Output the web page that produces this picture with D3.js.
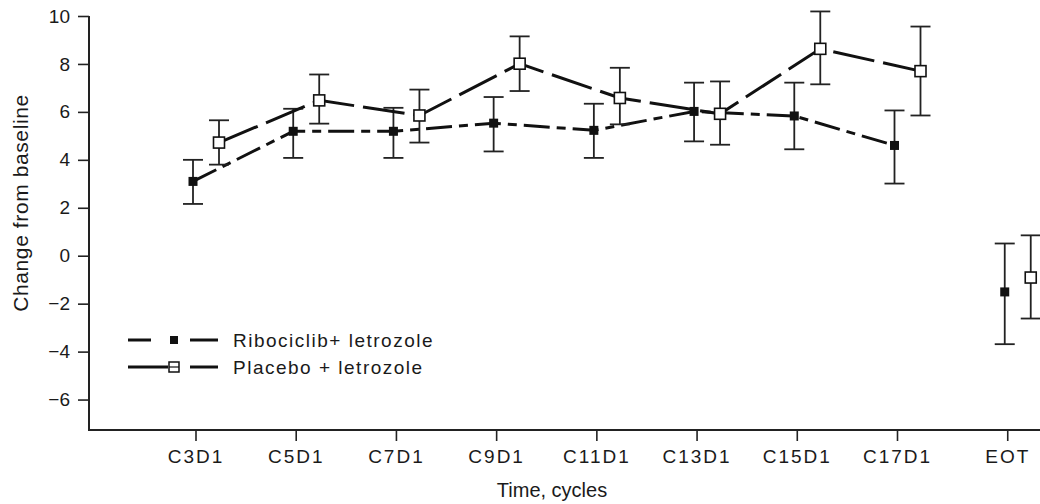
<!DOCTYPE html>
<html>
<head>
<meta charset="utf-8">
<script src="https://cdn.jsdelivr.net/npm/d3@7"></script>
<style>
	body { margin: 0; background: #fff; }
	text { font-family: 'Liberation Sans', Arial, sans-serif; fill: #1a1a1a; }
</style>
</head>
<body>
<div id="chart"></div>
<script>
// visits on the x axis
const visits = ['C3D1', 'C5D1', 'C7D1', 'C9D1', 'C11D1', 'C13D1', 'C15D1', 'C17D1', 'EOT']

// mean change from baseline and error bar limits
const riboMean = [3.10, 5.19, 5.19, 5.53, 5.23, 6.02, 5.83, 4.60, -1.51]
const riboLow = [2.16, 4.08, 4.08, 4.35, 4.08, 4.77, 4.44, 3.01, -3.69]
const riboHigh = [4.00, 6.13, 6.17, 6.62, 6.34, 7.22, 7.22, 6.06, 0.51]

const placeboMean = [4.72, 6.48, 5.85, 8.01, 6.58, 5.92, 8.63, 7.70, -0.91]
const placeboLow = [3.80, 5.51, 4.72, 6.87, 5.48, 4.63, 7.15, 5.85, -2.62]
const placeboHigh = [5.65, 7.56, 6.93, 9.15, 7.84, 7.27, 10.19, 9.56, 0.85]

const yTicks = [-6, -4, -2, 0, 2, 4, 6, 8, 10]

const width = 1040,
	height = 504,
	margin = {top: 16, right: 0, bottom: 74, left: 89}

const svg = d3.select('#chart').append('svg').attr('width', width).attr('height', height)

// EOT sits a little further out than the regular cycle spacing
const slot = i => (visits[i] === 'EOT' ? i + 0.1 : i)
const x = d3.scaleLinear().domain([0, 7]).range([196, 897.5])
const y = d3.scaleLinear().domain([-7.27, 10]).range([height - margin.bottom, margin.top])

const axisColour = '#222'

// axes
const yAxis = svg
	.append('g')
	.attr('transform', `translate(${margin.left},0)`)
	.call(d3.axisLeft(y).tickValues(yTicks).tickSize(11).tickPadding(8).tickSizeOuter(0))
yAxis.select('.domain').attr('stroke', axisColour).attr('stroke-width', 2)
	.attr('d', `M0,${y(10)}V${height - margin.bottom}`)
yAxis.selectAll('.tick line').attr('stroke', axisColour).attr('stroke-width', 1.6)
yAxis.selectAll('.tick text').style('font-size', '19px').attr('fill', '#1a1a1a')

const xAxisG = svg.append('g').attr('transform', `translate(0,${height - margin.bottom})`)
xAxisG
	.append('line')
	.attr('x1', margin.left - 1)
	.attr('x2', width)
	.attr('stroke', axisColour)
	.attr('stroke-width', 2)
const xTick = xAxisG
	.selectAll('g.xtick')
	.data(visits)
	.enter()
	.append('g')
	.attr('class', 'xtick')
	.attr('transform', (d, i) => `translate(${x(slot(i))},0)`)
xTick.append('line').attr('y2', 11).attr('stroke', axisColour).attr('stroke-width', 1.6)
xTick
	.append('text')
	.attr('y', 33)
	.attr('text-anchor', 'middle')
	.style('font-size', '19px')
	.style('letter-spacing', '2px')
	.text(d => d)

// axis titles
svg
	.append('text')
	.attr('x', 552)
	.attr('y', 497)
	.attr('text-anchor', 'middle')
	.style('font-size', '20px')
	.text('Time, cycles')
svg
	.append('text')
	.attr('transform', 'translate(28,203) rotate(-90)')
	.attr('text-anchor', 'middle')
	.style('font-size', '21px')
	.style('letter-spacing', '0.6px')
	.text('Change from baseline')

// series
const series = [
	{name: 'Ribociclib+ letrozole', mean: riboMean, low: riboLow, high: riboHigh, dx: -3, dash: '26,7,9,7', filled: true},
	{name: 'Placebo + letrozole', mean: placeboMean, low: placeboLow, high: placeboHigh, dx: 23, dash: '42,9', filled: false}
]

series.forEach(s => {
	const pts = visits.map((v, i) => ({v, x: x(slot(i)) + s.dx, m: s.mean[i], lo: s.low[i], hi: s.high[i]}))
	const g = svg.append('g')

	// connecting line over the cycles only, not EOT
	g.append('path')
		.datum(pts.filter(p => p.v !== 'EOT'))
		.attr('fill', 'none')
		.attr('stroke', '#111')
		.attr('stroke-width', 3)
		.attr('stroke-dasharray', s.dash)
		.attr('d', d3.line().x(p => p.x).y(p => y(p.m)))

	// error bars
	const eb = g.selectAll('g.eb').data(pts).enter().append('g')
	eb.append('line')
		.attr('x1', p => p.x).attr('x2', p => p.x)
		.attr('y1', p => y(p.lo)).attr('y2', p => y(p.hi))
		.attr('stroke', axisColour).attr('stroke-width', 1.8)
	eb.selectAll('line.cap')
		.data(p => [{x: p.x, v: p.lo}, {x: p.x, v: p.hi}])
		.enter()
		.append('line')
		.attr('class', 'cap')
		.attr('x1', c => c.x - 10).attr('x2', c => c.x + 10)
		.attr('y1', c => y(c.v)).attr('y2', c => y(c.v))
		.attr('stroke', axisColour).attr('stroke-width', 1.8)

	// markers
	const size = s.filled ? 9 : 11
	g.selectAll('rect')
		.data(pts)
		.enter()
		.append('rect')
		.attr('x', p => p.x - size / 2)
		.attr('y', p => y(p.m) - size / 2)
		.attr('width', size)
		.attr('height', size)
		.attr('fill', s.filled ? '#111' : '#fff')
		.attr('stroke', '#111')
		.attr('stroke-width', s.filled ? 0 : 1.6)
})

// legend
const legend = svg.append('g')
const legendRows = [
	{y: 340, name: series[0].name, left: [128, 151], filled: true},
	{y: 367, name: series[1].name, left: [128, 168], filled: false}
]
legendRows.forEach(r => {
	legend.append('line').attr('x1', r.left[0]).attr('x2', r.left[1]).attr('y1', r.y).attr('y2', r.y)
		.attr('stroke', '#111').attr('stroke-width', 3)
	legend.append('line').attr('x1', 190).attr('x2', 218).attr('y1', r.y).attr('y2', r.y)
		.attr('stroke', '#111').attr('stroke-width', 3)
	const sz = r.filled ? 8 : 10
	legend.append('rect')
		.attr('x', 174 - sz / 2).attr('y', r.y - sz / 2).attr('width', sz).attr('height', sz)
		.attr('fill', r.filled ? '#111' : '#fff').attr('stroke', '#111').attr('stroke-width', r.filled ? 0 : 1.5)
	if (!r.filled) {
		legend.append('line').attr('x1', 169).attr('x2', 179).attr('y1', r.y).attr('y2', r.y)
			.attr('stroke', '#111').attr('stroke-width', 1.2)
	}
	legend.append('text')
		.attr('x', 233)
		.attr('y', r.y + 7)
		.style('font-size', '19px')
		.style('letter-spacing', '1.5px')
		.text(r.name)
})
</script>
</body>
</html>
